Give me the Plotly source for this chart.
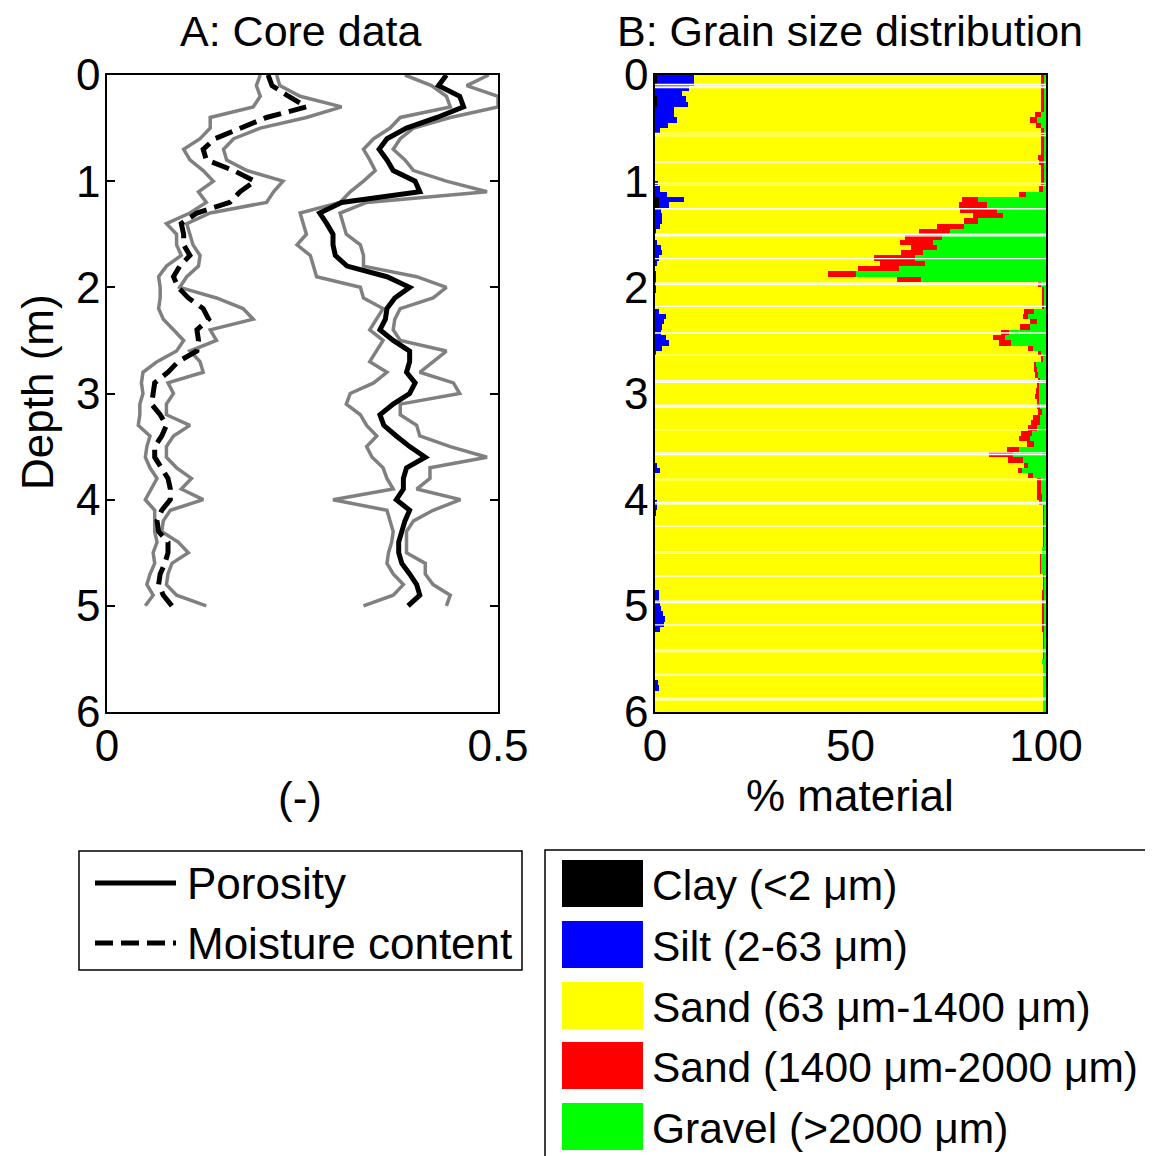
import plotly.graph_objects as go

# ---------------- Panel A: core data (depth every 0.1 m) ----------------
depth_core = [0.0, 0.1, 0.2, 0.3, 0.4, 0.5, 0.6, 0.7, 0.8, 0.9,
              1.0, 1.1, 1.2, 1.3, 1.4, 1.5, 1.6, 1.7, 1.8, 1.9,
              2.0, 2.1, 2.2, 2.3, 2.4, 2.5, 2.6, 2.7, 2.8, 2.9,
              3.0, 3.1, 3.2, 3.3, 3.4, 3.5, 3.6, 3.7, 3.8, 3.9,
              4.0, 4.1, 4.2, 4.3, 4.4, 4.5, 4.6, 4.7, 4.8, 4.9, 5.0]

porosity = [0.434, 0.424, 0.451, 0.456, 0.422, 0.383, 0.358, 0.348, 0.358, 0.366,
            0.394, 0.400, 0.300, 0.272, 0.281, 0.289, 0.289, 0.292, 0.307, 0.358,
            0.387, 0.368, 0.358, 0.356, 0.349, 0.366, 0.387, 0.387, 0.383, 0.394,
            0.387, 0.366, 0.349, 0.354, 0.370, 0.387, 0.407, 0.383, 0.379, 0.379,
            0.370, 0.387, 0.381, 0.377, 0.373, 0.373, 0.377, 0.387, 0.396, 0.400, 0.385]
porosity_min = [0.381, 0.415, 0.434, 0.439, 0.375, 0.362, 0.341, 0.328, 0.336, 0.343,
                0.328, 0.311, 0.298, 0.247, 0.251, 0.255, 0.243, 0.260, 0.264, 0.268,
                0.324, 0.328, 0.353, 0.345, 0.336, 0.353, 0.345, 0.336, 0.358, 0.341,
                0.311, 0.306, 0.324, 0.332, 0.345, 0.332, 0.339, 0.353, 0.358, 0.366,
                0.289, 0.358, 0.362, 0.366, 0.364, 0.360, 0.358, 0.366, 0.379, 0.366, 0.328]
porosity_max = [0.488, 0.460, 0.500, 0.500, 0.439, 0.392, 0.375, 0.366, 0.381, 0.392,
                0.434, 0.486, 0.332, 0.298, 0.302, 0.306, 0.324, 0.328, 0.328, 0.396,
                0.434, 0.417, 0.375, 0.368, 0.366, 0.375, 0.434, 0.417, 0.400, 0.443,
                0.451, 0.375, 0.375, 0.396, 0.400, 0.439, 0.486, 0.413, 0.413, 0.396,
                0.452, 0.417, 0.392, 0.383, 0.383, 0.383, 0.407, 0.407, 0.417, 0.439, 0.434]
moisture = [0.206, 0.211, 0.232, 0.255, 0.204, 0.170, 0.138, 0.123, 0.127, 0.162,
            0.189, 0.170, 0.157, 0.115, 0.095, 0.098, 0.098, 0.106, 0.093, 0.085,
            0.091, 0.104, 0.123, 0.130, 0.115, 0.117, 0.115, 0.091, 0.078, 0.061,
            0.059, 0.057, 0.068, 0.076, 0.070, 0.061, 0.061, 0.070, 0.078, 0.081,
            0.081, 0.070, 0.064, 0.066, 0.078, 0.078, 0.074, 0.068, 0.066, 0.072, 0.083]
moisture_min = [0.196, 0.191, 0.196, 0.187, 0.132, 0.132, 0.119, 0.098, 0.106, 0.123,
                0.136, 0.117, 0.127, 0.106, 0.076, 0.089, 0.089, 0.095, 0.076, 0.066,
                0.068, 0.068, 0.066, 0.072, 0.085, 0.098, 0.089, 0.064, 0.046, 0.044,
                0.046, 0.042, 0.042, 0.040, 0.055, 0.051, 0.049, 0.055, 0.064, 0.057,
                0.049, 0.061, 0.061, 0.061, 0.064, 0.059, 0.061, 0.055, 0.051, 0.059, 0.049]
moisture_max = [0.217, 0.221, 0.247, 0.300, 0.255, 0.196, 0.162, 0.149, 0.153, 0.179,
                0.225, 0.213, 0.204, 0.132, 0.102, 0.106, 0.110, 0.119, 0.117, 0.102,
                0.093, 0.140, 0.174, 0.187, 0.132, 0.140, 0.106, 0.119, 0.123, 0.078,
                0.085, 0.076, 0.076, 0.106, 0.085, 0.076, 0.076, 0.089, 0.108, 0.095,
                0.123, 0.081, 0.072, 0.070, 0.091, 0.104, 0.083, 0.078, 0.076, 0.089, 0.127]

# ---------------- Panel B: grain size (rows of 0.05 m, centre depths) ----------------
depth_gs = [0.025, 0.075, 0.125, 0.175, 0.225, 0.275, 0.325, 0.375, 0.425, 0.475,
            0.525, 0.575, 0.625, 0.675, 0.725, 0.775, 0.825, 0.875, 0.925, 0.975,
            1.025, 1.075, 1.125, 1.175, 1.225, 1.275, 1.325, 1.375, 1.425, 1.475,
            1.525, 1.575, 1.625, 1.675, 1.725, 1.775, 1.825, 1.875, 1.925, 1.975,
            2.025, 2.075, 2.125, 2.175, 2.225, 2.275, 2.325, 2.375, 2.425, 2.475,
            2.525, 2.575, 2.625, 2.675, 2.725, 2.775, 2.825, 2.875, 2.925, 2.975,
            3.025, 3.075, 3.125, 3.175, 3.225, 3.275, 3.325, 3.375, 3.425, 3.475,
            3.525, 3.575, 3.625, 3.675, 3.725, 3.775, 3.825, 3.875, 3.925, 3.975,
            4.025, 4.075, 4.125, 4.175, 4.225, 4.275, 4.325, 4.375, 4.425, 4.475,
            4.525, 4.575, 4.625, 4.675, 4.725, 4.775, 4.825, 4.875, 4.925, 4.975,
            5.025, 5.075, 5.125, 5.175, 5.225, 5.275, 5.325, 5.375, 5.425, 5.475,
            5.525, 5.575, 5.625, 5.675, 5.725, 5.775, 5.825, 5.875, 5.925, 5.975]

clay = [0.4, 0.4, 0, 0, 0.6, 0.6, 0, 0, 0, 0,
        0, 0, 0, 0, 0, 0, 0, 0, 0, 0,
        0, 0, 0, 1.0, 1.0, 0, 0, 0, 0, 0,
        0, 0, 0, 0, 0, 0, 0, 0, 0, 0,
        0, 0, 0, 0, 0, 0, 0, 0, 0, 0,
        0, 0, 0, 0, 0, 0, 0, 0, 0, 0,
        0, 0, 0, 0, 0, 0, 0, 0, 0, 0,
        0, 0, 0, 0, 0, 0, 0, 0, 0, 0,
        0, 0, 0, 0, 0, 0, 0, 0, 0, 0,
        0, 0, 0, 0, 0, 0, 0, 0, 0, 0,
        0, 0, 0, 0, 0, 0, 0, 0, 0, 0,
        0, 0, 0, 0, 0, 0, 0, 0, 0, 0]
silt = [9.5, 9.5, 8.8, 6.8, 7.4, 7.9, 4.8, 4.8, 5.6, 3.4,
        1.2, 0, 0, 0, 0, 0, 0, 0, 0, 0,
        0.7, 1.3, 3.0, 6.5, 2.5, 1.6, 1.8, 1.7, 1.3, 0.3,
        0, 0.5, 1.5, 1.7, 1.0, 0.5, 0, 0.3, 0.3, 0.3,
        0.2, 0, 0, 0, 1.0, 2.8, 2.3, 1.8, 1.5, 2.8,
        3.6, 1.8, 0.3, 0, 0, 0, 0, 0, 0, 0,
        0, 0, 0, 0, 0, 0, 0, 0, 0, 0,
        0, 0, 0, 0.4, 1.2, 0, 0, 0, 0, 0,
        0.4, 0.4, 0.3, 0, 0, 0, 0, 0, 0, 0,
        0, 0, 0, 0, 0, 0, 0, 1.0, 1.0, 1.2,
        1.5, 2.0, 2.5, 2.2, 1.2, 0, 0, 0, 0, 0,
        0, 0, 0, 0, 0.8, 0.9, 0, 0, 0, 0]
sand_fine = [88.7, 88.7, 89.8, 91.8, 90.6, 90.1, 93.8, 92.5, 90.4, 94.1,
             97.4, 98.8, 98.8, 98.8, 98.8, 98.0, 98.1, 98.6, 98.8, 98.8,
             98.1, 97.0, 90.0, 71.0, 74.2, 76.4, 79.6, 77.3, 70.7, 67.2,
             64.0, 62.2, 64.0, 61.3, 55.0, 57.0, 52.0, 44.0, 61.7, 97.7,
             98.7, 98.9, 98.9, 98.9, 93.5, 91.2, 93.7, 91.6, 87.0, 83.7,
             84.4, 93.7, 97.7, 98.6, 96.9, 97.0, 97.4, 98.0, 97.8, 97.5,
             97.3, 97.6, 97.8, 98.0, 96.6, 96.1, 95.5, 93.5, 93.0, 95.2,
             90.0, 85.5, 90.4, 94.1, 91.6, 95.5, 97.8, 97.6, 97.6, 97.8,
             97.9, 98.9, 99.0, 99.3, 99.3, 99.3, 99.3, 99.3, 99.3, 99.0,
             98.5, 98.5, 98.5, 98.5, 99.3, 99.3, 99.3, 97.9, 97.9, 97.7,
             97.4, 96.9, 96.4, 96.7, 97.7, 99.3, 99.3, 99.3, 99.3, 99.3,
             99.0, 99.3, 99.3, 99.3, 98.5, 98.4, 99.3, 99.3, 99.3, 99.3]
sand_coarse = [0.9, 0.9, 0.9, 0.9, 0.9, 0.9, 0.9, 1.3, 1.8, 1.3,
               0.8, 0.7, 0.7, 0.7, 0.7, 1.6, 1.5, 1.0, 0.7, 0.7,
               0.7, 0.9, 2.0, 4.2, 7.1, 9.4, 7.5, 3.5, 7.0, 8.0,
               9.5, 8.5, 6.5, 5.5, 10.5, 11.5, 10.5, 7.2, 6.0, 0.8,
               0.6, 0.6, 0.6, 0.6, 2.5, 1.5, 1.8, 2.5, 2.0, 3.0,
               3.0, 1.3, 0.6, 0.6, 0.6, 0.6, 0.5, 0.4, 0.5, 0.7,
               0.8, 0.6, 0.7, 1.0, 1.9, 2.4, 2.3, 3.0, 2.8, 1.8,
               3.0, 6.0, 3.8, 1.0, 1.0, 1.3, 0.8, 1.0, 1.2, 1.2,
               0.7, 0.3, 0.3, 0.3, 0.3, 0.3, 0.3, 0.3, 0.3, 0.1,
               0.1, 0.1, 0.1, 0.1, 0.3, 0.3, 0.3, 0.7, 0.7, 0.7,
               0.7, 0.7, 0.7, 0.7, 0.7, 0.4, 0.4, 0.4, 0.4, 0.4,
               0, 0, 0, 0, 0, 0, 0, 0, 0, 0]
gravel = [0.5, 0.5, 0.5, 0.5, 0.5, 0.5, 0.5, 1.4, 2.2, 1.2,
          0.6, 0.5, 0.5, 0.5, 0.5, 0.4, 0.4, 0.4, 0.5, 0.5,
          0.5, 0.8, 5.0, 17.3, 15.2, 12.6, 11.1, 17.5, 21.0, 24.5,
          26.5, 28.8, 28.0, 31.5, 33.5, 31.0, 37.5, 48.5, 32.0, 1.2,
          0.5, 0.5, 0.5, 0.5, 3.0, 4.5, 2.2, 4.1, 9.5, 10.5,
          9.0, 3.2, 1.4, 0.8, 2.5, 2.4, 2.1, 1.6, 1.7, 1.8,
          1.9, 1.8, 1.5, 1.0, 1.5, 1.5, 2.2, 3.5, 4.2, 3.0,
          7.0, 8.5, 5.8, 4.5, 6.2, 3.2, 1.4, 1.4, 1.2, 1.0,
          1.0, 0.4, 0.4, 0.4, 0.4, 0.4, 0.4, 0.4, 0.4, 0.9,
          1.4, 1.4, 1.4, 1.4, 0.4, 0.4, 0.4, 0.4, 0.4, 0.4,
          0.4, 0.4, 0.4, 0.4, 0.4, 0.3, 0.3, 0.3, 0.3, 0.3,
          1.0, 0.7, 0.7, 0.7, 0.7, 0.7, 0.7, 0.7, 0.7, 0.7]

# depths of the thin white breaks between core sections
gap_depths = [0.088, 0.104, 0.119, 0.55, 0.57, 0.82, 1.02, 1.04, 1.26, 1.50, 1.515,
              1.73, 1.96, 1.975, 2.18, 2.43, 2.64, 2.88, 2.895, 3.11, 3.125, 3.34,
              3.56, 3.575, 3.81, 4.025, 4.04, 4.25, 4.49, 4.505, 4.72, 4.955, 4.97,
              5.18, 5.415, 5.43, 5.64, 5.655, 5.87, 5.885]

line_names = ["Porosity", "Moisture content"]
fraction_names = ["Clay (&lt;2 \u03bcm)", "Silt (2-63 \u03bcm)", "Sand (63 \u03bcm-1400 \u03bcm)",
                  "Sand (1400 \u03bcm-2000 \u03bcm)", "Gravel (&gt;2000 \u03bcm)"]
fraction_colors = ["#000000", "#0000ff", "#ffff00", "#ff0000", "#00ff00"]

W, H = 1153, 1156
OFF = 8  # page body margin: the figure is drawn 8 px right/down of the window corner
FONT = "Liberation Sans, Arial, sans-serif"


def px(x):
    return (x - OFF) / W


def py(y):
    return 1 - (y - OFF) / H


fig = go.Figure()

grey = "#808080"
for s in [moisture_min, moisture_max, porosity_min, porosity_max]:
    fig.add_trace(go.Scatter(x=s, y=depth_core, mode="lines", line=dict(color=grey, width=3.5),
                             xaxis="x", yaxis="y", showlegend=False, hoverinfo="skip"))
fig.add_trace(go.Scatter(x=porosity, y=depth_core, mode="lines", name=line_names[0],
                         line=dict(color="black", width=5), xaxis="x", yaxis="y"))
fig.add_trace(go.Scatter(x=moisture, y=depth_core, mode="lines", name=line_names[1],
                         line=dict(color="black", width=5, dash="18px,8px"), xaxis="x", yaxis="y"))

for name, vals, col in zip(fraction_names, [clay, silt, sand_fine, sand_coarse, gravel], fraction_colors):
    fig.add_trace(go.Bar(x=vals, y=depth_gs, orientation="h", name=name,
                         marker=dict(color=col, line=dict(width=0)), xaxis="x2", yaxis="y2"))

shapes = []
for g in gap_depths:
    shapes.append(dict(type="line", xref="x2", yref="y2", x0=0, x1=100, y0=g, y1=g,
                       line=dict(color="white", width=1.3), layer="above"))

# legend 1 (lines)
shapes.append(dict(type="rect", xref="paper", yref="paper", x0=px(79), x1=px(522), y0=py(970), y1=py(851),
                   line=dict(color="black", width=1.5), fillcolor="white"))
shapes.append(dict(type="line", xref="paper", yref="paper", x0=px(95), x1=px(176), y0=py(883), y1=py(883),
                   line=dict(color="black", width=5)))
shapes.append(dict(type="line", xref="paper", yref="paper", x0=px(95), x1=px(176), y0=py(943), y1=py(943),
                   line=dict(color="black", width=5, dash="18px,8px")))
# legend 2 (fractions)
shapes.append(dict(type="rect", xref="paper", yref="paper", x0=px(545), x1=px(1180), y0=py(1190), y1=py(850),
                   line=dict(color="black", width=1.5), fillcolor="white"))
sq_top = [860, 921, 982, 1042, 1103]
for t, col in zip(sq_top, fraction_colors):
    shapes.append(dict(type="rect", xref="paper", yref="paper", x0=px(562), x1=px(643), y0=py(t + 47), y1=py(t),
                       line=dict(width=0), fillcolor=col))

ann = []
ann.append(dict(text="A: Core data", x=px(300), y=py(31), xref="paper", yref="paper", showarrow=False,
                xanchor="center", yanchor="middle", font=dict(size=43)))
ann.append(dict(text="B: Grain size distribution", x=px(850), y=py(31), xref="paper", yref="paper",
                showarrow=False, xanchor="center", yanchor="middle", font=dict(size=43)))
ann.append(dict(text="Depth (m)", x=px(37), y=py(392), xref="paper", yref="paper", showarrow=False,
                textangle=-90, xanchor="center", yanchor="middle", font=dict(size=44)))
ann.append(dict(text="(-)", x=px(300), y=py(797), xref="paper", yref="paper", showarrow=False,
                xanchor="center", yanchor="middle", font=dict(size=44)))
ann.append(dict(text="% material", x=px(850), y=py(795), xref="paper", yref="paper", showarrow=False,
                xanchor="center", yanchor="middle", font=dict(size=44)))
for txt, yc in zip(line_names, [883, 943]):
    ann.append(dict(text=txt, x=px(185), y=py(yc), xref="paper", yref="paper", showarrow=False,
                    xanchor="left", yanchor="middle", font=dict(size=44)))
for txt, t in zip(fraction_names, sq_top):
    ann.append(dict(text=txt, x=px(650), y=py(t + 25), xref="paper", yref="paper", showarrow=False,
                    xanchor="left", yanchor="middle", font=dict(size=42.5)))

axis_common = dict(showline=True, linecolor="black", linewidth=1.5, mirror="ticks", ticks="inside",
                   ticklen=8, tickwidth=1.5, tickcolor="black", showgrid=False, zeroline=False,
                   tickfont=dict(size=44), automargin=False)

fig.update_layout(
    template="none",
    width=W, height=H, margin=dict(l=0, r=0, t=0, b=0, pad=0, autoexpand=False),
    paper_bgcolor="white", plot_bgcolor="white",
    font=dict(family=FONT, size=44, color="black"),
    barmode="stack", bargap=0, showlegend=False,
    xaxis=dict(domain=[px(107), px(498)], range=[0, 0.5], tickvals=[0, 0.5], ticktext=["0", "0.5"],
               anchor="y", ticklabelstandoff=-6, **axis_common),
    yaxis=dict(domain=[py(712), py(75)], range=[6, 0], tickvals=[0, 1, 2, 3, 4, 5, 6],
               anchor="x", ticklabelstandoff=-4, **axis_common),
    xaxis2=dict(domain=[px(655), px(1046)], range=[0, 100], tickvals=[0, 50, 100],
                anchor="y2", layer="below traces", ticklabelstandoff=-6, **axis_common),
    yaxis2=dict(domain=[py(712), py(75)], range=[6, 0], tickvals=[0, 1, 2, 3, 4, 5, 6],
                anchor="x2", layer="below traces", ticklabelstandoff=-4, **axis_common),
    shapes=shapes, annotations=ann,
)

fig.write_html("out.html")
